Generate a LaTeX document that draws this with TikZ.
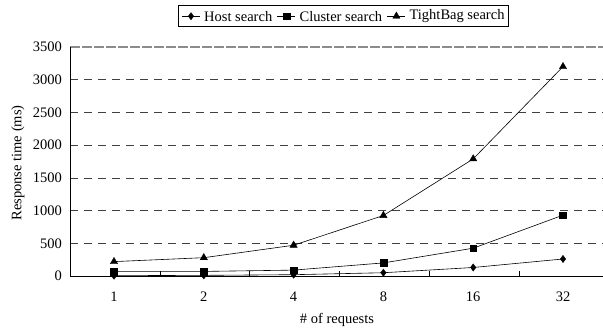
\documentclass[tikz,border=0pt]{standalone}
\usepackage{fontspec}
\setmainfont{Liberation Serif}
\usetikzlibrary{plotmarks}

\begin{document}
\begin{tikzpicture}[x=1pt,y=1pt,
  every node/.style={font=\fontsize{14.5}{16}\selectfont, inner sep=0pt},
  gridline/.style={draw=black!75, line width=0.7pt, dash pattern=on 8pt off 6pt},
  topline/.style={draw=black!45, line width=1.4pt, dash pattern=on 10pt off 2pt},
  axisline/.style={draw=black, line width=0.9pt},
  series/.style={draw=black, line width=0.6pt},
  hostmark/.style={mark=diamond*, mark size=3.6pt, mark options={fill=black, draw=black, solid}},
  clustmark/.style={mark=square*, mark size=3.4pt, mark options={fill=black, draw=black, solid}},
  tightmark/.style={mark=triangle*, mark size=4.2pt, mark options={fill=black, draw=black, solid}},
  ticklab/.style={anchor=base},
  ylab/.style={anchor=east},
]
\useasboundingbox (0,0) rectangle (603,335);

% value axis: 0 ms at y=59, 3500 ms at y=288
\def\vy#1{59+#1/3500*229}

% horizontal gridlines
\foreach \v in {500,1000,...,3000}
  \draw[gridline] (70,{\vy{\v}}) -- (603,{\vy{\v}});
\draw[topline] (70,288) -- (603,288);

% axes
\coordinate (origin) at (70,59);
\coordinate (ytop) at (70,288);
\coordinate (xend) at (603,59);
\draw[axisline] (ytop) -- (origin) -- (xend);

% category ticks
\foreach \i in {1,...,5}
  \draw[axisline, line width=0.6pt] ({70+89.8*\i},59) -- ({70+89.8*\i},64);

% value tick labels
\foreach \v in {0,500,...,3500}
  \node[ylab] (yl\v) at (62,{\vy{\v}}) {\v};

% category labels
\foreach \c [count=\i from 0] in {1,2,4,8,16,32}
  \node[ticklab] (xl\i) at ({114+89.8*\i},33) {\c};

% axis titles
\node (xtitle) at (337,15) {\# of requests};
\node[rotate=90] (ytitle) at (18,172) {Response time (ms)};

% data series
\foreach \name/\vals in {host/{5,10,20,50,130,260},
                         clust/{70,70,90,200,425,930},
                         tight/{220,280,470,925,1790,3200}} {
  \foreach \v [count=\i from 0] in \vals
    \coordinate (\name\i) at ({114+89.8*\i},{\vy{\v}});
}
\draw[series] (host0) -- (host1) -- (host2) -- (host3) -- (host4) -- (host5);
\draw[series] (clust0) -- (clust1) -- (clust2) -- (clust3) -- (clust4) -- (clust5);
\draw[series] (tight0) -- (tight1) -- (tight2) -- (tight3) -- (tight4) -- (tight5);
\foreach \i in {0,...,5} {
  \draw plot[hostmark] coordinates {(host\i)};
  \draw plot[clustmark] coordinates {(clust\i)};
  \draw plot[tightmark] coordinates {(tight\i)};
}

% legend: sample line, marker and label for each series, laid out left to right
\def\ly{318.8}
\coordinate (lh1) at (182,\ly);
\coordinate (lh2) at ([xshift=18pt]lh1);
\node[anchor=west] (lhost) at ([xshift=4pt]lh2) {Host search};
\coordinate (lc1) at ([xshift=5pt]lhost.east);
\coordinate (lc2) at ([xshift=18pt]lc1);
\node[anchor=west] (lclust) at ([xshift=4pt]lc2) {Cluster search};
\coordinate (lt1) at ([xshift=5pt]lclust.east);
\coordinate (lt2) at ([xshift=18pt]lt1);
\node[anchor=west] (ltight) at ([xshift=4pt]lt2) {TightBag search};
\draw[line width=0.8pt] (178,{\ly-10.5}) rectangle ([xshift=4pt]ltight.east |- 0,{\ly+10.5});
\draw[series] (lh1) -- (lh2);
\draw[series] (lc1) -- (lc2);
\draw[series] (lt1) -- (lt2);
\path (lh1) -- (lh2) coordinate[pos=0.5] (lhm);
\path (lc1) -- (lc2) coordinate[pos=0.5] (lcm);
\path (lt1) -- (lt2) coordinate[pos=0.5] (ltm);
\draw plot[hostmark] coordinates {(lhm)};
\draw plot[clustmark] coordinates {(lcm)};
\draw plot[tightmark] coordinates {(ltm)};
\end{tikzpicture}
\end{document}
